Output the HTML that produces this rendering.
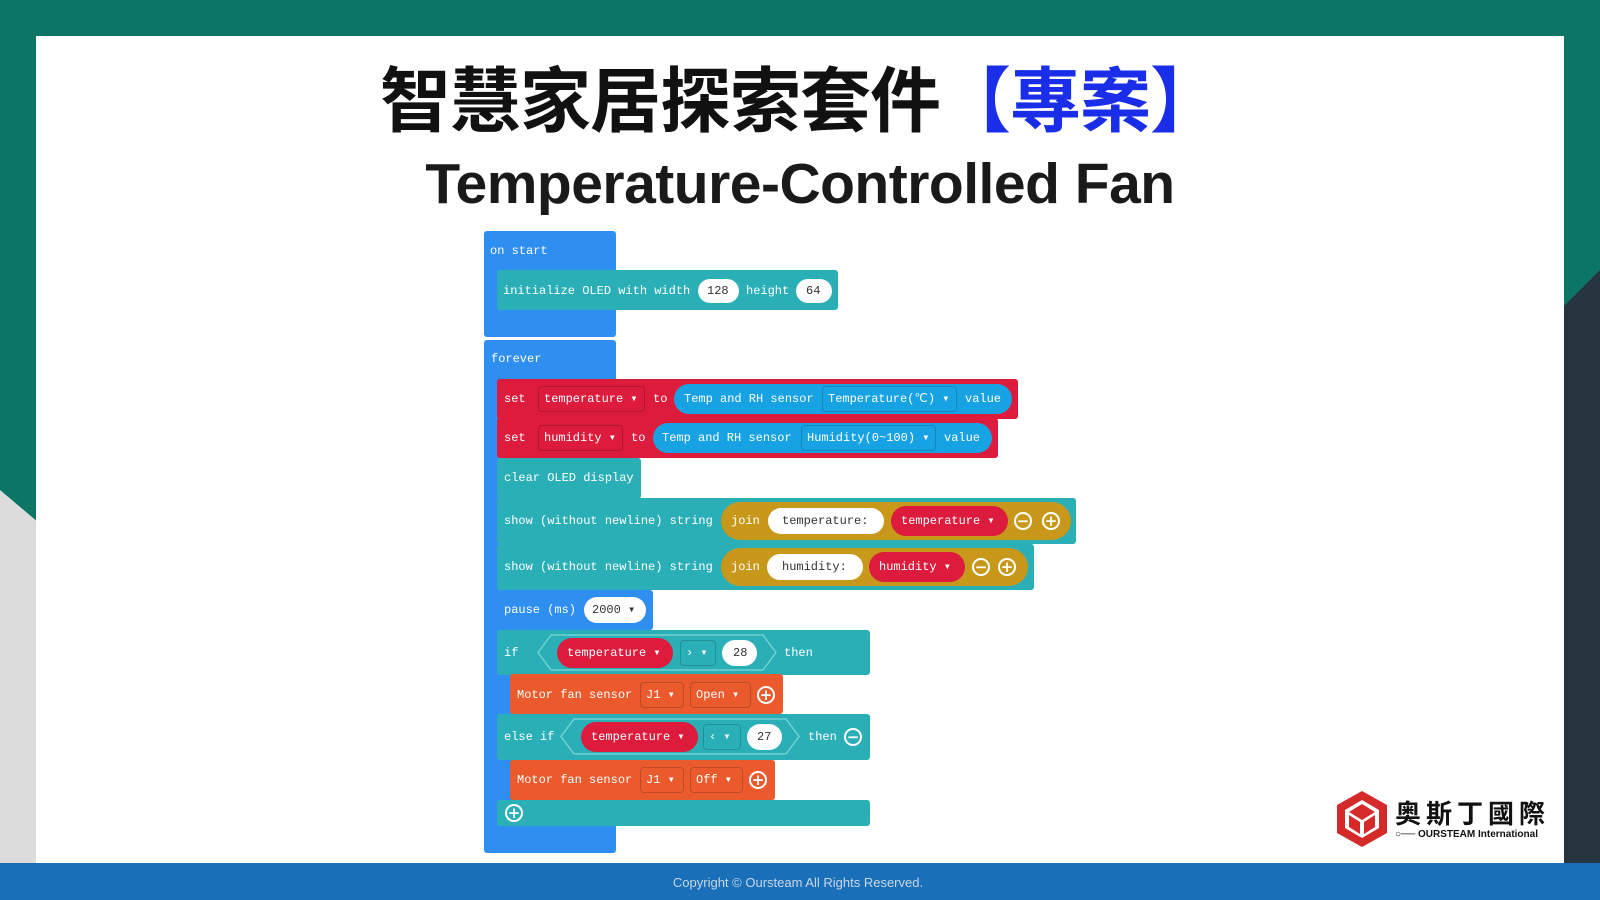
<!DOCTYPE html>
<html><head><meta charset="utf-8"><style>
*{margin:0;padding:0;box-sizing:border-box}
body{width:1600px;height:900px;position:relative;overflow:hidden;background:#0d7566;font-family:"Liberation Sans",sans-serif}
.a{position:absolute}
.m{font-family:"Liberation Mono","DejaVu Sans Mono",monospace;font-size:12px;color:#fff;white-space:nowrap;line-height:1}
.blk{position:absolute;border-radius:3px}
.blue{background:#2e8ff0}
.teal{background:#2aafb6}
.red{background:#dc1b3d}
.org{background:#ea5a2c}
.pill{position:absolute;border-radius:20px;display:flex;align-items:center;padding-left:9px}
.dd{position:absolute;border:1px solid rgba(0,0,0,.18);border-radius:4px;display:flex;align-items:center;padding-left:7px}
.t{position:absolute;transform:translateY(-50%)}
.circ{position:absolute;width:18px;height:18px;border:2px solid #fff;border-radius:50%;color:#fff;font:bold 15px/14px "DejaVu Sans",sans-serif;text-align:center}
</style></head><body>
<div class="a" style="left:0;top:490px;width:36px;height:380px;background:#dcdcdc;clip-path:polygon(0 0,100% 8%,100% 100%,0 100%)"></div>
<div class="a" style="left:1564px;top:270px;width:36px;height:600px;background:#25343f;clip-path:polygon(0 6%,100% 0,100% 100%,0 100%)"></div>
<div class="a" style="left:36px;top:36px;width:1528px;height:828px;background:#fff"></div>
<div class="a" style="left:0;top:863px;width:1600px;height:37px;background:#1a6fb9"></div>
<div class="a" style="left:0;top:875px;width:1596px;text-align:center;color:#c9d6e6;font-size:13px">Copyright © Oursteam All Rights Reserved.</div>

<div class="a" style="left:0;top:60px;width:1600px;text-align:center;font:bold 71px/86px 'Liberation Sans','Noto Sans CJK TC',sans-serif;color:#111;letter-spacing:-1px">智慧家居探索套件<span style="color:#1a2de8">【專案】</span></div>
<div class="a" style="left:0;top:151px;width:1600px;text-align:center;font:bold 57px/66px 'Liberation Sans',sans-serif;color:#1a1a1a;letter-spacing:-0.5px">Temperature-Controlled Fan</div>

<div class="blk blue" style="left:484px;top:231px;width:132px;height:106px"></div>
<div class="m t" style="left:490px;top:251px">on start</div>
<div class="blk teal" style="left:497px;top:270px;width:341px;height:40px"></div>
<div class="m t" style="left:503px;top:291px">initialize OLED with width</div>
<div class="pill" style="left:698px;top:279px;width:41px;height:24px;background:#fff"></div><div class="m t" style="left:707px;top:291px;color:#333">128</div>
<div class="m t" style="left:746px;top:291px">height</div>
<div class="pill" style="left:796px;top:279px;width:36px;height:24px;background:#fff"></div><div class="m t" style="left:806px;top:291px;color:#333">64</div>

<div class="blk blue" style="left:484px;top:340px;width:132px;height:513px"></div>
<div class="m t" style="left:491px;top:359px">forever</div>

<div class="blk red" style="left:497px;top:379px;width:521px;height:40px"></div>
<div class="m t" style="left:504px;top:399px">set</div>
<div class="dd" style="left:538px;top:386px;width:107px;height:26px"></div><div class="m t" style="left:544px;top:399px">temperature ▾</div>
<div class="m t" style="left:653px;top:399px">to</div>
<div class="pill" style="left:674px;top:384px;width:338px;height:30px;background:#17a3e3"></div>
<div class="m t" style="left:684px;top:399px">Temp and RH sensor</div>
<div class="dd" style="left:822px;top:386px;width:135px;height:26px"></div><div class="m t" style="left:828px;top:399px">Temperature(℃) ▾</div>
<div class="m t" style="left:965px;top:399px">value</div>

<div class="blk red" style="left:497px;top:418px;width:501px;height:40px"></div>
<div class="m t" style="left:504px;top:438px">set</div>
<div class="dd" style="left:538px;top:425px;width:85px;height:26px"></div><div class="m t" style="left:544px;top:438px">humidity ▾</div>
<div class="m t" style="left:631px;top:438px">to</div>
<div class="pill" style="left:653px;top:423px;width:339px;height:30px;background:#17a3e3"></div>
<div class="m t" style="left:662px;top:438px">Temp and RH sensor</div>
<div class="dd" style="left:801px;top:425px;width:135px;height:26px"></div><div class="m t" style="left:807px;top:438px">Humidity(0~100) ▾</div>
<div class="m t" style="left:944px;top:438px">value</div>

<div class="blk teal" style="left:497px;top:458px;width:144px;height:41px"></div>
<div class="m t" style="left:504px;top:478px">clear OLED display</div>

<div class="blk teal" style="left:497px;top:498px;width:579px;height:46px"></div>
<div class="m t" style="left:504px;top:521px">show (without newline) string</div>
<div class="pill" style="left:721px;top:502px;width:350px;height:38px;background:#c8981a"></div>
<div class="m t" style="left:731px;top:521px">join</div>
<div class="pill" style="left:768px;top:508px;width:116px;height:26px;background:#fff"></div><div class="m t" style="left:782px;top:521px;color:#333">temperature:</div>
<div class="pill" style="left:891px;top:506px;width:117px;height:30px;background:#dc1b3d"></div><div class="m t" style="left:901px;top:521px">temperature ▾</div>
<div class="circ" style="left:1014px;top:512px">−</div><div class="circ" style="left:1042px;top:512px">+</div>

<div class="blk teal" style="left:497px;top:544px;width:537px;height:46px"></div>
<div class="m t" style="left:504px;top:567px">show (without newline) string</div>
<div class="pill" style="left:721px;top:548px;width:307px;height:38px;background:#c8981a"></div>
<div class="m t" style="left:731px;top:567px">join</div>
<div class="pill" style="left:767px;top:554px;width:96px;height:26px;background:#fff"></div><div class="m t" style="left:782px;top:567px;color:#333">humidity:</div>
<div class="pill" style="left:869px;top:552px;width:96px;height:30px;background:#dc1b3d"></div><div class="m t" style="left:879px;top:567px">humidity ▾</div>
<div class="circ" style="left:972px;top:558px">−</div><div class="circ" style="left:998px;top:558px">+</div>

<div class="blk blue" style="left:497px;top:590px;width:156px;height:40px"></div>
<div class="m t" style="left:504px;top:610px">pause (ms)</div>
<div class="pill" style="left:584px;top:597px;width:62px;height:26px;background:#fff"></div><div class="m t" style="left:592px;top:610px;color:#333">2000 ▾</div>

<div class="blk teal" style="left:497px;top:630px;width:373px;height:45px"></div>
<div class="m t" style="left:504px;top:653px">if</div>
<svg class="a" style="left:537px;top:634px" width="240" height="37"><polygon points="14,1 226,1 239,18.5 226,36 14,36 1,18.5" fill="none" stroke="#7fd6d6" stroke-width="1.2"/></svg>
<div class="pill" style="left:557px;top:638px;width:116px;height:30px;background:#dc1b3d"></div><div class="m t" style="left:567px;top:653px">temperature ▾</div>
<div class="dd" style="left:680px;top:640px;width:36px;height:26px"></div><div class="m t" style="left:686px;top:653px">› ▾</div>
<div class="pill" style="left:722px;top:640px;width:35px;height:26px;background:#fff"></div><div class="m t" style="left:733px;top:653px;color:#333">28</div>
<div class="m t" style="left:784px;top:653px">then</div>

<div class="blk org" style="left:510px;top:674px;width:273px;height:40px"></div>
<div class="m t" style="left:517px;top:695px">Motor fan sensor</div>
<div class="dd" style="left:640px;top:682px;width:44px;height:26px"></div><div class="m t" style="left:646px;top:695px">J1 ▾</div>
<div class="dd" style="left:690px;top:682px;width:61px;height:26px"></div><div class="m t" style="left:696px;top:695px">Open ▾</div>
<div class="circ" style="left:757px;top:686px">+</div>

<div class="blk teal" style="left:497px;top:714px;width:373px;height:46px"></div>
<div class="m t" style="left:504px;top:737px">else if</div>
<svg class="a" style="left:560px;top:718px" width="240" height="37"><polygon points="14,1 226,1 239,18.5 226,36 14,36 1,18.5" fill="none" stroke="#7fd6d6" stroke-width="1.2"/></svg>
<div class="pill" style="left:581px;top:722px;width:117px;height:30px;background:#dc1b3d"></div><div class="m t" style="left:591px;top:737px">temperature ▾</div>
<div class="dd" style="left:703px;top:724px;width:38px;height:26px"></div><div class="m t" style="left:709px;top:737px">‹ ▾</div>
<div class="pill" style="left:747px;top:724px;width:35px;height:26px;background:#fff"></div><div class="m t" style="left:757px;top:737px;color:#333">27</div>
<div class="m t" style="left:808px;top:737px">then</div>
<div class="circ" style="left:844px;top:728px">−</div>

<div class="blk org" style="left:510px;top:760px;width:265px;height:40px"></div>
<div class="m t" style="left:517px;top:780px">Motor fan sensor</div>
<div class="dd" style="left:640px;top:767px;width:44px;height:26px"></div><div class="m t" style="left:646px;top:780px">J1 ▾</div>
<div class="dd" style="left:690px;top:767px;width:53px;height:26px"></div><div class="m t" style="left:696px;top:780px">Off ▾</div>
<div class="circ" style="left:749px;top:771px">+</div>

<div class="blk teal" style="left:497px;top:800px;width:373px;height:26px"></div>
<div class="circ" style="left:505px;top:804px">+</div>

<svg class="a" style="left:1336px;top:790px" width="52" height="58"><polygon points="26,1 51,15 51,43 26,57 1,43 1,15" fill="#d42a2a"/><polygon points="26,10 43,20 43,38 26,48 9,38 9,20" fill="#fff"/><polygon points="26,14 39,22 26,30 13,22" fill="#d42a2a"/><polygon points="13,25 24,32 24,44 13,37" fill="#d42a2a"/><polygon points="39,25 28,32 28,44 39,37" fill="#d42a2a"/></svg>
<div class="a" style="left:1395px;top:797px;font:bold 26px/32px 'Noto Sans CJK TC',sans-serif;color:#111;letter-spacing:5px">奥斯丁國際</div>
<div class="a" style="left:1395px;top:829px;font:bold 10px/12px 'Liberation Sans',sans-serif;color:#111;white-space:nowrap">○── OURSTEAM International</div>
</body></html>
